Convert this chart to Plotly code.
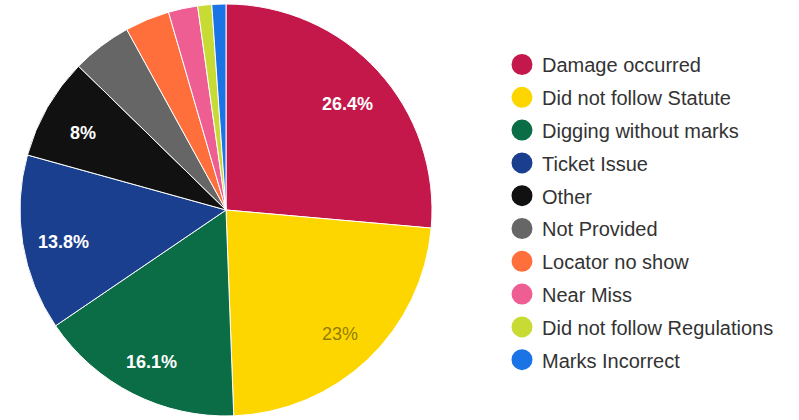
import math
import plotly.graph_objects as go

# Share of reported incidents by cause (percent)
categories = [
    "Damage occurred", "Did not follow Statute", "Digging without marks",
    "Ticket Issue", "Other", "Not Provided", "Locator no show",
    "Near Miss", "Did not follow Regulations", "Marks Incorrect",
]
shares = [26.4, 23.0, 16.1, 13.8, 8.0, 4.7, 3.5, 2.3, 1.1, 1.1]
colors = [
    "#C4184A", "#FDD600", "#0A6D46", "#1B3F8F", "#111111",
    "#666666", "#FF6F3C", "#EE5E93", "#C8DA34", "#1A74E6",
]

W, H = 799, 420
dom_x = [20 / W, 432 / W]
dom_y = [4 / H, 416 / H]

fig = go.Figure()

fig.add_trace(go.Pie(
    labels=categories,
    values=shares,
    sort=False,
    direction="clockwise",
    rotation=0,
    marker=dict(colors=colors, line=dict(color="white", width=1)),
    textinfo="none",
    hoverinfo="label+percent",
    showlegend=False,
    domain=dict(x=dom_x, y=dom_y),
))

# Legend entries with round swatches
for i, (name, col) in enumerate(zip(categories, colors)):
    fig.add_trace(go.Scatter(
        x=[None], y=[None], mode="markers", name=name,
        legendgroup=f"g{i}",
        marker=dict(symbol="circle", size=16, color=col,
                    line=dict(color=col, width=5)),
        hoverinfo="skip",
    ))

# Percentage labels along each slice bisector
cx = (dom_x[0] + dom_x[1]) / 2 * W
cy = (1 - (dom_y[0] + dom_y[1]) / 2) * H
radius = min((dom_x[1] - dom_x[0]) * W, (dom_y[1] - dom_y[0]) * H) / 2
total = sum(shares)
cum = 0.0
annotations = []
for v, col in zip(shares, colors):
    mid = (cum + v / 2) / total * 2 * math.pi
    cum += v
    if v < 5:
        continue
    px = cx + 0.8 * radius * math.sin(mid)
    py = cy - 0.8 * radius * math.cos(mid)
    on_light = col == "#FDD600"
    annotations.append(dict(
        x=px / W, y=1 - py / H, xref="paper", yref="paper",
        xanchor="center", yanchor="middle", yshift=-5,
        text=f"{v:g}%" if on_light else f"<b>{v:g}%</b>",
        showarrow=False,
        font=dict(family="Liberation Sans, Arial, sans-serif", size=18,
                  color="rgba(70,60,0,0.6)" if on_light else "white"),
    ))

fig.update_layout(
    width=W, height=H,
    margin=dict(l=0, r=0, t=0, b=0),
    paper_bgcolor="white",
    plot_bgcolor="white",
    font=dict(family="Liberation Sans, Arial, sans-serif", color="#333333"),
    xaxis=dict(visible=False),
    yaxis=dict(visible=False),
    annotations=annotations,
    legend=dict(
        x=502 / W, y=1 - 45 / H, xanchor="left", yanchor="top",
        font=dict(size=20, color="#333333"),
        tracegroupgap=3.8,
        bgcolor="rgba(0,0,0,0)",
        itemclick=False, itemdoubleclick=False,
    ),
)

fig.write_html("out.html")
